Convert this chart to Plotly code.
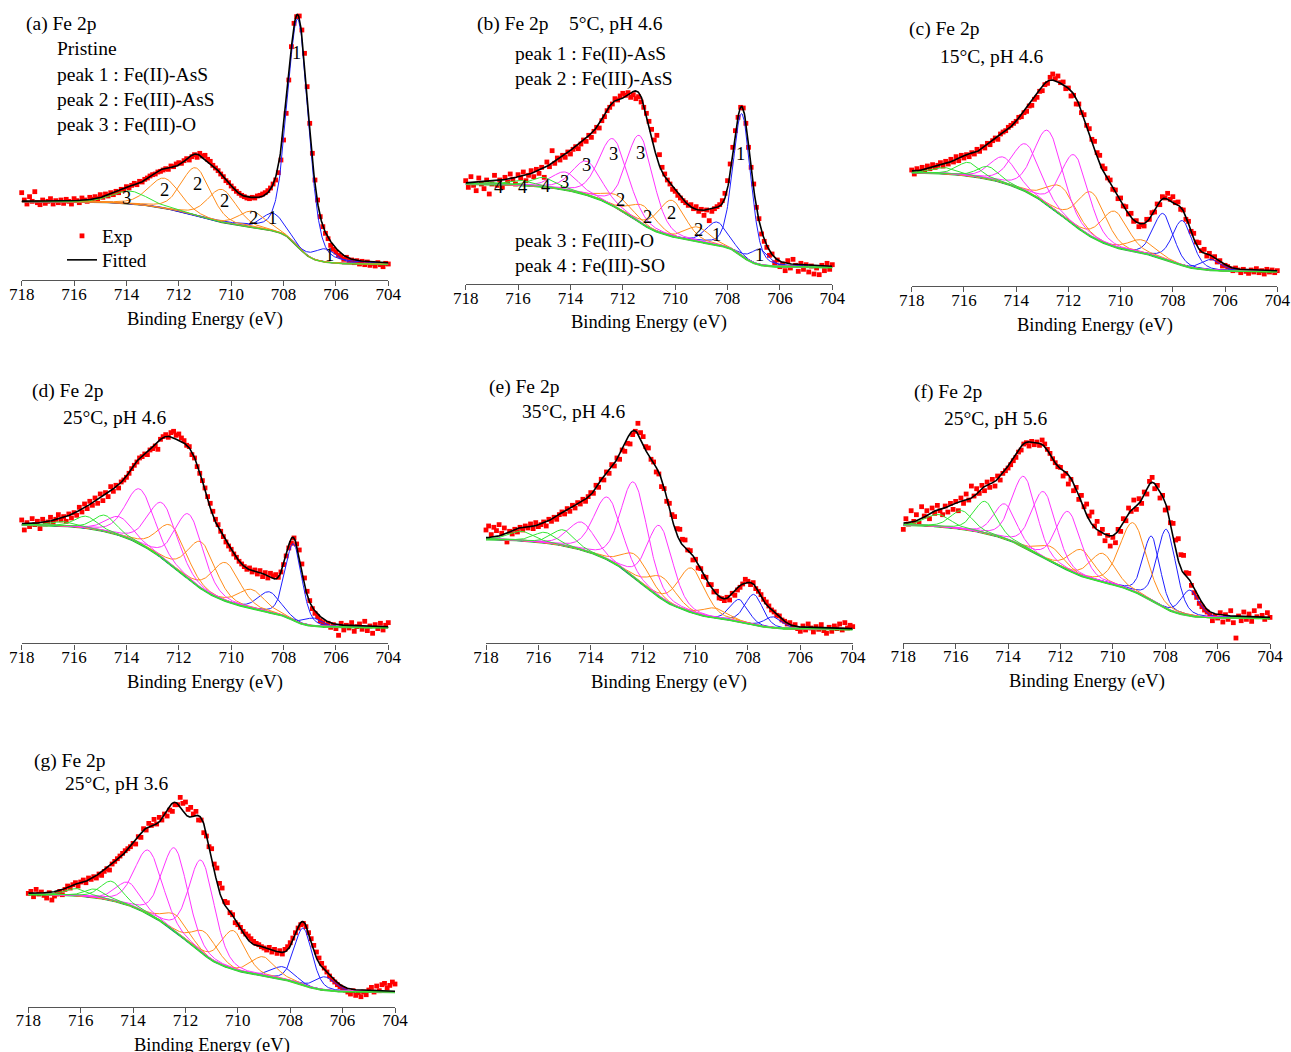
import numpy as np
import plotly.graph_objects as go

FONT = "Liberation Serif"
FIG_W, FIG_H = 1291, 1052

# Spectra are sampled from 718.0 eV down to 704.0 eV in 0.1 eV steps.
E_START, E_STEP = 718.0, 0.1

# ---------------- (a) Pristine ----------------
A_EXP = [
    262, 240, 228, 250, 236, 265, 232, 226, 240, 230,
    236, 244, 228, 238, 232, 240, 230, 242, 236, 228,
    244, 238, 232, 246, 240, 236, 248, 242, 250, 244,
    256, 248, 258, 252, 262, 256, 266, 262, 272, 270,
    280, 276, 284, 290, 286, 296, 294, 302, 306, 312,
    316, 318, 324, 326, 330, 334, 332, 342, 340, 348,
    352, 350, 358, 364, 360, 370, 376, 368, 380, 372,
    374, 362, 356, 344, 336, 328, 318, 310, 298, 292,
    282, 274, 266, 260, 254, 250, 246, 244, 248, 246,
    252, 254, 258, 262, 268, 276, 288, 300, 322, 360,
    420, 500, 600, 700, 770, 790, 792, 750, 680, 580,
    470, 380, 300, 240, 190, 160, 140, 124, 104, 92,
    84, 74, 70, 62, 68, 56, 60, 52, 58, 48,
    56, 46, 54, 44, 50, 42, 52, 46, 40, 50,
    48,
]
A_BG_HIGH, A_BG_LOW = 235, 47
A_GROUP = [1, 1, 1, 2, 2, 2, 2, 3]
A_CENTER = [707.45, 708.40, 706.40, 709.20, 710.35, 711.35, 712.55, 713.85]
A_HEIGHT = [682, 53, 40, 49, 99, 143, 90, 38]
A_FWHM = [0.95, 1.0, 1.0, 1.2, 1.3, 1.3, 1.4, 1.6]

# ---------------- (b) 5 °C, pH 4.6 ----------------
B_EXP = [
    310, 290, 322, 296, 280, 318, 300, 286, 312, 270,
    300, 326, 296, 312, 290, 320, 306, 330, 314, 300,
    328, 318, 336, 310, 326, 340, 322, 344, 332, 350,
    320, 366, 352, 400, 362, 378, 372, 386, 380, 396,
    390, 404, 412, 406, 420, 432, 428, 446, 440, 458,
    470, 468, 490, 502, 520, 530, 540, 556, 552, 564,
    572, 566, 574, 560, 568, 556, 562, 546, 530, 512,
    488, 464, 432, 446, 388, 350, 330, 312, 300, 284,
    278, 266, 258, 250, 244, 236, 238, 226, 232, 218,
    224, 206, 222, 190, 218, 226, 232, 238, 250, 272,
    310, 360, 410, 460, 500, 530, 528, 482, 410, 350,
    300, 230, 196, 150, 128, 110, 86, 90, 64, 72,
    52, 60, 40, 70, 48, 74, 56, 38, 62, 44,
    58, 36, 54, 30, 48, 28, 56, 40, 62, 44,
    58,
]
B_BG_HIGH, B_BG_LOW = 300, 50
B_GROUP = [1, 1, 1, 2, 2, 2, 2, 3, 3, 3, 3, 4, 4, 4]
B_CENTER = [707.45, 708.40, 706.76, 709.15, 710.12, 711.20, 712.20,
            711.35, 712.36, 713.38, 714.20, 715.00, 715.85, 716.80]
B_HEIGHT = [426, 69, 47, 44, 108, 57, 38, 260, 201, 101, 53, 28, 14, 6]
B_FWHM = [0.8, 1.0, 0.8, 1.1, 1.2, 1.1, 1.3, 1.2, 1.3, 1.3, 1.2, 1.1, 1.0, 1.0]

# ---------------- (c) 15 °C, pH 4.6 ----------------
C_EXP = [
    348, 336, 352, 344, 356, 346, 360, 352, 364, 356,
    362, 370, 360, 374, 366, 380, 372, 388, 376, 392,
    384, 394, 388, 400, 396, 410, 404, 418, 414, 428,
    424, 436, 444, 440, 456, 462, 466, 476, 482, 488,
    494, 506, 508, 520, 524, 540, 542, 560, 566, 584,
    586, 604, 608, 626, 636, 622, 630, 610, 612, 592,
    594, 570, 572, 546, 546, 520, 514, 482, 472, 440,
    434, 400, 392, 360, 352, 324, 318, 290, 288, 262,
    264, 240, 238, 216, 218, 194, 196, 178, 184, 180,
    200, 200, 220, 222, 246, 244, 268, 264, 278, 260,
    268, 250, 252, 230, 228, 200, 194, 164, 158, 132,
    130, 106, 110, 90, 98, 84, 88, 72, 76, 60,
    62, 58, 52, 46, 54, 48, 40, 50, 44, 38,
    48, 42, 52, 40, 46, 36, 50, 42, 48, 40,
    46,
]
C_BG_HIGH, C_BG_LOW = 340, 43
C_GROUP = [1, 1, 1, 2, 2, 2, 2, 3, 3, 3, 3, 4, 4, 4]
C_CENTER = [708.37, 707.63, 706.52, 709.20, 710.22, 711.11, 712.26,
            711.75, 712.77, 713.62, 714.49, 715.07, 715.83, 716.70]
C_HEIGHT = [135, 134, 32, 40, 107, 134, 85, 211, 223, 142, 77, 37, 40, 18]
C_FWHM = [0.9, 0.9, 0.9, 1.2, 1.2, 1.25, 1.3, 1.25, 1.3, 1.3, 1.2, 1.0, 1.0, 1.1]

# ---------------- (d) 25 °C, pH 4.6 ----------------
D_EXP = [
    370, 340, 362, 350, 374, 356, 366, 344, 372, 358,
    364, 378, 360, 372, 386, 370, 380, 366, 388, 376,
    392, 384, 408, 394, 418, 404, 426, 414, 436, 420,
    448, 428, 452, 440, 470, 456, 474, 466, 484, 490,
    498, 510, 524, 534, 544, 556, 560, 568, 566, 580,
    584, 592, 582, 612, 620, 626, 618, 632, 636, 624,
    628, 616, 608, 594, 590, 566, 556, 530, 510, 488,
    466, 440, 420, 396, 372, 356, 336, 320, 304, 292,
    282, 268, 258, 246, 238, 230, 222, 226, 214, 220,
    208, 218, 200, 212, 196, 210, 202, 206, 198, 214,
    236, 262, 286, 300, 316, 298, 280, 238, 196, 156,
    128, 104, 90, 80, 68, 62, 54, 60, 48, 56,
    44, 24, 60, 40, 54, 46, 62, 36, 50, 58,
    42, 66, 38, 52, 30, 56, 44, 60, 40, 54,
    62,
]
D_BG_HIGH, D_BG_LOW = 355, 47
D_GROUP = [1, 1, 1, 2, 2, 2, 2, 3, 3, 3, 3, 4, 4, 4]
D_CENTER = [707.62, 708.54, 706.86, 709.22, 710.20, 711.13, 712.27,
            711.60, 712.62, 713.48, 714.27, 714.82, 715.54, 716.35]
D_HEIGHT = [229, 62, 24, 57, 115, 140, 118, 195, 165, 164, 55, 48, 35, 13]
D_FWHM = [0.75, 1.0, 0.8, 1.2, 1.25, 1.25, 1.3, 1.25, 1.3, 1.3, 1.2, 1.0, 1.0, 1.1]

# ---------------- (e) 35 °C, pH 4.6 ----------------
E_EXP = [
    340, 352, 326, 348, 338, 356, 330, 346, 304, 336,
    328, 342, 334, 348, 340, 352, 346, 358, 344, 362,
    350, 356, 364, 352, 372, 366, 378, 372, 386, 394,
    388, 404, 396, 414, 406, 422, 418, 432, 426, 440,
    452, 450, 474, 468, 492, 490, 514, 510, 536, 532,
    556, 552, 580, 576, 600, 598, 626, 636, 660, 632,
    620, 590, 586, 552, 544, 514, 508, 470, 464, 426,
    420, 386, 380, 344, 342, 312, 310, 280, 278, 250,
    252, 226, 224, 200, 198, 176, 176, 154, 156, 136,
    134, 128, 138, 130, 150, 144, 160, 168, 178, 192,
    186, 176, 182, 164, 156, 146, 132, 124, 112, 100,
    94, 84, 82, 70, 66, 58, 62, 50, 56, 44,
    36, 52, 40, 58, 46, 34, 50, 42, 56, 38,
    30, 48, 36, 52, 44, 58, 40, 62, 46, 54,
    50,
]
E_BG_HIGH, E_BG_LOW = 312, 42
E_GROUP = [1, 1, 1, 2, 2, 2, 2, 3, 3, 3, 3, 4, 4, 4]
E_CENTER = [708.33, 707.77, 707.03, 709.26, 710.15, 711.25, 712.27,
            711.36, 712.34, 713.35, 714.35, 715.05, 715.75, 716.64]
E_HEIGHT = [66, 91, 33, 30, 133, 66, 71, 215, 285, 187, 83, 47, 31, 28]
E_FWHM = [0.8, 0.8, 0.8, 1.1, 1.2, 1.2, 1.2, 1.15, 1.2, 1.25, 1.2, 1.0, 1.0, 1.1]

# ---------------- (f) 25 °C, pH 5.6 ----------------
F_EXP = [
    340, 372, 356, 396, 364, 384, 358, 408, 380, 396,
    372, 404, 388, 412, 396, 384, 410, 392, 418, 400,
    424, 396, 434, 418, 446, 428, 470, 440, 462, 448,
    472, 456, 482, 466, 490, 470, 500, 488, 508, 516,
    524, 534, 546, 556, 572, 578, 596, 600, 590, 604,
    594, 602, 592, 608, 596, 580, 568, 552, 540, 528,
    526, 500, 508, 476, 490, 456, 466, 430, 442, 408,
    416, 380, 392, 350, 364, 328, 340, 306, 322, 290,
    316, 300, 340, 334, 372, 366, 404, 394, 428, 400,
    432, 418, 452, 446, 484, 496, 462, 472, 434, 442,
    398, 404, 360, 358, 308, 312, 264, 262, 210, 208,
    172, 150, 136, 118, 108, 98, 92, 84, 66, 80,
    74, 90, 62, 84, 70, 96, 60, 14, 80, 66,
    92, 70, 86, 64, 96, 78, 110, 82, 70, 90,
    76,
]
F_BG_HIGH, F_BG_LOW = 353, 73
F_GROUP = [1, 1, 1, 2, 2, 2, 2, 3, 3, 3, 3, 4, 4, 4]
F_CENTER = [708.52, 707.95, 707.05, 709.22, 710.39, 711.19, 712.34,
            711.70, 712.63, 713.39, 714.12, 714.88, 715.77, 716.66]
F_HEIGHT = [192, 238, 77, 205, 86, 79, 45, 176, 198, 211, 104, 95, 55, 36]
F_FWHM = [0.75, 0.85, 0.8, 1.2, 1.1, 1.1, 1.1, 1.1, 1.1, 1.1, 1.0, 1.0, 1.0, 1.1]

# ---------------- (g) 25 °C, pH 3.6 ----------------
G_EXP = [
    340, 346, 330, 352, 338, 344, 334, 326, 342, 320,
    332, 338, 346, 336, 352, 362, 356, 366, 372, 362,
    374, 380, 372, 386, 382, 390, 386, 398, 394, 406,
    414, 410, 428, 436, 444, 452, 460, 468, 474, 480,
    490, 488, 510, 508, 534, 530, 550, 544, 562, 548,
    568, 560, 578, 572, 590, 586, 606, 606, 628, 610,
    614, 592, 598, 578, 586, 560, 560, 522, 512, 480,
    474, 428, 416, 370, 356, 316, 312, 282, 276, 252,
    246, 238, 226, 218, 212, 204, 196, 190, 186, 180,
    176, 170, 178, 164, 172, 160, 168, 158, 172, 180,
    192, 206, 222, 236, 246, 250, 240, 222, 204, 184,
    164, 146, 130, 116, 104, 92, 82, 74, 66, 60,
    54, 50, 44, 38, 48, 34, 42, 30, 44, 36,
    50, 58, 44, 62, 48, 66, 70, 56, 64, 74,
    68,
]
G_BG_HIGH, G_BG_LOW = 337, 44
G_GROUP = [1, 1, 1, 2, 2, 2, 2, 3, 3, 3, 3, 4, 4, 4]
G_CENTER = [707.50, 708.29, 706.67, 709.03, 710.17, 711.25, 712.34,
            711.38, 712.40, 713.41, 714.18, 714.82, 715.45, 716.15]
G_HEIGHT = [170, 38, 40, 58, 116, 69, 51, 276, 249, 191, 68, 57, 25, 21]
G_FWHM = [0.8, 1.0, 0.9, 1.1, 1.1, 1.1, 1.1, 1.15, 1.15, 1.25, 1.1, 1.0, 0.9, 1.0]

TICKS = [718, 716, 714, 712, 710, 708, 706, 704]
AXIS_TITLE = "Binding Energy (eV)"

PANELS = [
    dict(exp=A_EXP, bg=(A_BG_HIGH, A_BG_LOW), group=A_GROUP, center=A_CENTER, height=A_HEIGHT, fwhm=A_FWHM,
         title="(a) Fe 2p", subtitle="Pristine"),
    dict(exp=B_EXP, bg=(B_BG_HIGH, B_BG_LOW), group=B_GROUP, center=B_CENTER, height=B_HEIGHT, fwhm=B_FWHM,
         title="(b) Fe 2p", subtitle="5°C, pH 4.6"),
    dict(exp=C_EXP, bg=(C_BG_HIGH, C_BG_LOW), group=C_GROUP, center=C_CENTER, height=C_HEIGHT, fwhm=C_FWHM,
         title="(c) Fe 2p", subtitle="15°C, pH 4.6"),
    dict(exp=D_EXP, bg=(D_BG_HIGH, D_BG_LOW), group=D_GROUP, center=D_CENTER, height=D_HEIGHT, fwhm=D_FWHM,
         title="(d) Fe 2p", subtitle="25°C, pH 4.6"),
    dict(exp=E_EXP, bg=(E_BG_HIGH, E_BG_LOW), group=E_GROUP, center=E_CENTER, height=E_HEIGHT, fwhm=E_FWHM,
         title="(e) Fe 2p", subtitle="35°C, pH 4.6"),
    dict(exp=F_EXP, bg=(F_BG_HIGH, F_BG_LOW), group=F_GROUP, center=F_CENTER, height=F_HEIGHT, fwhm=F_FWHM,
         title="(f) Fe 2p", subtitle="25°C, pH 5.6"),
    dict(exp=G_EXP, bg=(G_BG_HIGH, G_BG_LOW), group=G_GROUP, center=G_CENTER, height=G_HEIGHT, fwhm=G_FWHM,
         title="(g) Fe 2p", subtitle="25°C, pH 3.6"),
]

# ---- page geometry (pixels): energy axis left end, right end, axis-line y; text anchors ----
FRAMES = [
    dict(x0=21.7, x1=388.3, ay=280.0, title=(25, 24), sub=(56, 49)),
    dict(x0=465.7, x1=832.3, ay=284.0, title=(476, 24), sub=(568, 24)),
    dict(x0=911.7, x1=1277.3, ay=286.0, title=(908, 29), sub=(939, 56)),
    dict(x0=21.7, x1=388.3, ay=643.3, title=(31, 391), sub=(62, 417)),
    dict(x0=486.0, x1=852.7, ay=643.3, title=(488, 387), sub=(521, 411)),
    dict(x0=903.3, x1=1270.0, ay=642.7, title=(913, 392), sub=(943, 418)),
    dict(x0=28.3, x1=395.0, ay=1006.7, title=(33, 761), sub=(64, 783)),
]
Y_TOP = 810          # intensity shown over the 270 px panel height
PANEL_PX = 270
TEXT_SIZE = 19.5
TAG_SIZE = 18.5

COLORS_A = {1: "#1f1fff", 2: "#ff8c1a", 3: "#33e633"}
COLORS = {1: "#1f1fff", 2: "#ff8c1a", 3: "#ff33ff", 4: "#33e633"}

# Peak assignments written on panels (a) and (b)
A_NOTES = ["peak 1 : Fe(II)-AsS", "peak 2 : Fe(III)-AsS", "peak 3 : Fe(III)-O"]
B_NOTES_TOP = ["peak 1 : Fe(II)-AsS", "peak 2 : Fe(III)-AsS"]
B_NOTES_BOTTOM = ["peak 3 : Fe(III)-O", "peak 4 : Fe(III)-SO"]

# Peak-number tags placed next to the component curves (energy, intensity, label)
A_TAGS = [(707.50, 680, "1"), (713.99, 245, "3"), (712.55, 270, "2"), (711.29, 287, "2"),
          (710.24, 237, "2"), (709.15, 185, "2"), (708.42, 185, "1"), (706.23, 75, "1")]
B_TAGS = [(707.50, 390, "1"), (708.42, 147, "1"), (706.79, 87, "1"), (709.12, 162, "2"),
          (710.16, 214, "2"), (711.06, 200, "2"), (712.08, 252, "2"), (711.34, 392, "3"),
          (712.36, 390, "3"), (713.38, 357, "3"), (714.21, 307, "3"), (714.97, 294, "4"),
          (715.82, 290, "4"), (716.75, 292, "4")]


def component(x, c, h, w, mix=0.25):
    """Gaussian-Lorentzian sum line shape."""
    u = (x - c) / w
    return h * ((1 - mix) * np.exp(-4 * np.log(2) * u ** 2) + mix / (1 + 4 * u ** 2))


def shirley(x, total, hi, lo):
    """Shirley-type background: the step follows the peak area on the low-energy side."""
    area = np.concatenate([[0.0], np.cumsum(0.5 * (total[1:] + total[:-1]) * np.diff(x))])
    return lo + (hi - lo) * area / area[-1]


def px_x(px):
    return px / FIG_W


def px_y(py):
    return 1 - py / FIG_H


grid = np.linspace(704.0, 718.0, 701)
fig = go.Figure()
annotations = []
layout_axes = {}

for i, (p, fr) in enumerate(zip(PANELS, FRAMES)):
    n = "" if i == 0 else str(i + 1)
    xa, ya = "x" + n, "y" + n
    colors = COLORS_A if i == 0 else COLORS
    hi, lo = p["bg"]

    exp = np.array(p["exp"], dtype=float)
    energy = E_START - E_STEP * np.arange(len(exp))

    comps = [component(grid, c, h, w) for c, h, w in zip(p["center"], p["height"], p["fwhm"])]
    total = np.sum(comps, axis=0)
    bg = shirley(grid, total, hi, lo)

    fig.add_trace(go.Scatter(
        x=energy, y=exp, mode="markers", xaxis=xa, yaxis=ya,
        marker=dict(symbol="square", size=4.8, color="#ff0000", line=dict(width=0)),
        name="Exp", showlegend=(i == 0), legend="legend", cliponaxis=False))
    fig.add_trace(go.Scatter(
        x=grid, y=bg, mode="lines", xaxis=xa, yaxis=ya, showlegend=False,
        line=dict(color="#56701c" if i == 0 else "#22cc22", width=1.6 if i == 0 else 2.2)))
    for g, comp in zip(p["group"], comps):
        fig.add_trace(go.Scatter(
            x=grid, y=bg + comp, mode="lines", xaxis=xa, yaxis=ya, showlegend=False,
            line=dict(color=colors[g], width=1)))
    fig.add_trace(go.Scatter(
        x=grid, y=bg + total, mode="lines", xaxis=xa, yaxis=ya,
        line=dict(color="#000000", width=1.6), name="Fitted", showlegend=(i == 0), legend="legend2"))

    layout_axes["xaxis" + n] = dict(
        domain=[px_x(fr["x0"]), px_x(fr["x1"])], anchor=ya, range=[718, 704],
        tickvals=TICKS, ticks="outside", ticklen=5, tickwidth=1.4, tickcolor="#555555",
        showline=True, linecolor="#555555", linewidth=1.4, showgrid=False, zeroline=False,
        ticklabelstandoff=-7,
        tickfont=dict(family=FONT, size=17, color="#000000"), fixedrange=True, automargin=False)
    layout_axes["yaxis" + n] = dict(
        domain=[px_y(fr["ay"]), px_y(fr["ay"] - PANEL_PX)], anchor=xa, range=[0, Y_TOP],
        visible=False, fixedrange=True, automargin=False)

    tx, ty = fr["title"]
    sx, sy = fr["sub"]
    annotations.append(dict(text=p["title"], x=px_x(tx), y=px_y(ty)))
    annotations.append(dict(text=p["subtitle"], x=px_x(sx), y=px_y(sy)))
    annotations.append(dict(text=AXIS_TITLE, x=px_x((fr["x0"] + fr["x1"]) / 2), y=px_y(fr["ay"] + 39),
                            xanchor="center", size=18.5))

for k, t in enumerate(A_NOTES):
    annotations.append(dict(text=t, x=px_x(56), y=px_y(75 + 25 * k)))
for k, t in enumerate(B_NOTES_TOP):
    annotations.append(dict(text=t, x=px_x(514), y=px_y(54 + 25 * k)))
for k, t in enumerate(B_NOTES_BOTTOM):
    annotations.append(dict(text=t, x=px_x(514), y=px_y(241 + 25 * k)))

for tags, n in ((A_TAGS, ""), (B_TAGS, "2")):
    for e, yv, t in tags:
        annotations.append(dict(text=t, x=e, y=yv, xref="x" + n, yref="y" + n, xanchor="center",
                                size=TAG_SIZE))

for a in annotations:
    a.setdefault("xref", "paper")
    a.setdefault("yref", "paper")
    a.setdefault("xanchor", "left")
    size = a.pop("size", TEXT_SIZE)
    a.update(showarrow=False, yanchor="middle", align="left", borderpad=0,
             font=dict(family=FONT, size=size, color="#000000"))

legend_common = dict(xanchor="left", yanchor="middle", bgcolor="rgba(0,0,0,0)",
                     font=dict(family=FONT, size=19, color="#000000"), itemwidth=30)
fig.update_layout(
    width=FIG_W, height=FIG_H,
    margin=dict(l=0, r=0, t=0, b=0, pad=0, autoexpand=False),
    paper_bgcolor="#ffffff", plot_bgcolor="rgba(0,0,0,0)",
    annotations=annotations,
    showlegend=True,
    legend=dict(x=px_x(62), y=px_y(236), **legend_common),
    legend2=dict(x=px_x(62), y=px_y(260), **legend_common),
    **layout_axes,
)

fig.write_html("out.html")
